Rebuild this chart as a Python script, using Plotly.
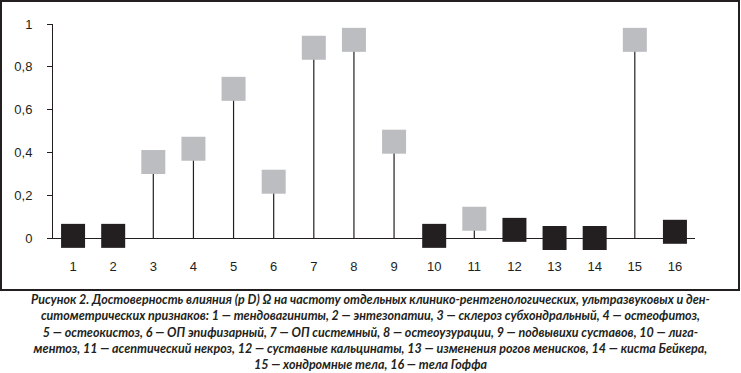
import plotly.graph_objects as go

categories = list(range(1, 16 + 1))
values = [0.01, 0.01, 0.355, 0.417, 0.697, 0.263, 0.889, 0.926, 0.45,
          0.01, 0.09, 0.038, 0.0, 0.0, 0.926, 0.029]
significant = [False, False, True, True, True, True, True, True, True,
               False, True, False, False, False, True, False]
y_tickvals = [0, 0.2, 0.4, 0.6, 0.8, 1]
y_ticktext = ["0", "0,2", "0,4", "0,6", "0,8", "1"]

caption_lines = [
    "Рисунок 2. Достоверность влияния (р D) Ω на частоту отдельных клинико-рентгенологических, ультразвуковых и ден-",
    "ситометрических признаков: 1 — тендовагиниты, 2 — энтезопатии, 3 — склероз субхондральный, 4 — остеофитоз,",
    "5 — остеокистоз, 6 — ОП эпифизарный, 7 — ОП системный, 8 — остеоузурации, 9 — подвывихи суставов, 10 — лига-",
    "ментоз, 11 — асептический некроз, 12 — суставные кальцинаты, 13 — изменения рогов менисков, 14 — киста Бейкера,",
    "15 — хондромные тела, 16 — тела Гоффа",
]

INK = "#231f20"
GRAY = "#bcbdc0"

gx = [c for c, s in zip(categories, significant) if s]
gy = [v for v, s in zip(values, significant) if s]
bx = [c for c, s in zip(categories, significant) if not s]
by = [v for v, s in zip(values, significant) if not s]

fig = go.Figure()
fig.add_trace(go.Scatter(
    x=gx, y=gy, mode="markers", cliponaxis=False,
    marker=dict(symbol="square", size=24, color=GRAY, line=dict(width=0)),
    error_y=dict(type="data", symmetric=False, array=[0] * len(gy),
                 arrayminus=gy, width=0, thickness=1.2, color=INK),
    showlegend=False,
))
fig.add_trace(go.Scatter(
    x=bx, y=by, mode="markers", cliponaxis=False,
    marker=dict(symbol="square", size=24, color=INK, line=dict(width=0)),
    showlegend=False,
))

L, R, T, B = 53, 46, 24, 135
W, H = 741, 373
pw, ph = W - L - R, H - T - B

def px_x(p):
    return (p - L) / pw

def px_y(p):
    return (H - B - p) / ph

fig.add_shape(type="rect", xref="paper", yref="paper",
              x0=px_x(1), x1=px_x(739), y0=px_y(290), y1=px_y(1),
              line=dict(color=INK, width=2), layer="below")

fig.add_annotation(
    xref="paper", yref="paper", x=px_x(370), y=px_y(290),
    xanchor="center", yanchor="top", align="center", showarrow=False,
    text="<br>".join("<b><i>" + l + "</i></b>" for l in caption_lines),
    font=dict(family="Lato, sans-serif", size=12.5, color=INK),
)

fig.update_layout(
    width=W, height=H,
    margin=dict(l=L, r=R, t=T, b=B),
    paper_bgcolor="white", plot_bgcolor="white",
    font=dict(family="Liberation Sans, Arial, sans-serif", size=13, color=INK),
    xaxis=dict(range=[0.5, 16.5], tickvals=categories,
               ticktext=[str(c) for c in categories],
               showgrid=False, zeroline=False, showline=True,
               linecolor=INK, linewidth=1, ticks="", layer="below traces",
               ticklabelstandoff=16, tickfont=dict(size=13, color=INK)),
    yaxis=dict(range=[0, 1], tickvals=y_tickvals, ticktext=y_ticktext,
               showgrid=False, zeroline=False, showline=True,
               linecolor=INK, linewidth=1, ticks="outside", ticklen=5,
               tickcolor=INK, layer="below traces",
               ticklabelstandoff=12, tickfont=dict(size=13, color=INK)),
)

fig.write_html("out.html",
               config={"displayModeBar": False},
               post_script="document.body.style.margin='0';document.body.style.overflow='hidden';")
